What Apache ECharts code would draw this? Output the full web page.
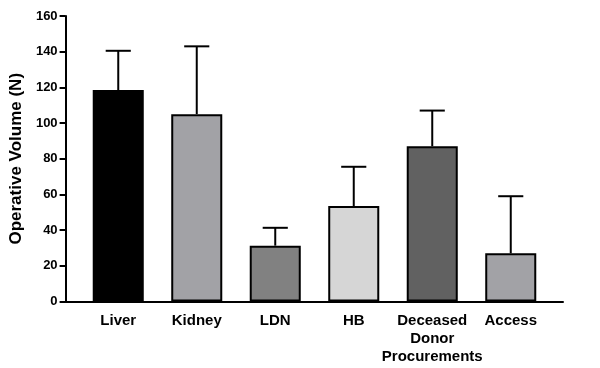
<!DOCTYPE html>
<html>
<head>
<meta charset="utf-8">
<script src="https://cdn.jsdelivr.net/npm/echarts@6/dist/echarts.min.js"></script>
<style>html,body{margin:0;padding:0;background:#fff}#c{width:600px;height:368px}</style>
</head>
<body>
<div id="c"></div>
<script>
const categories = ['Liver', 'Kidney', 'LDN', 'HB', 'Deceased\nDonor\nProcurements', 'Access'];
const means = [118.5, 105, 31.3, 53.5, 87, 27];
const sdUpper = [22, 38, 10, 22, 20, 32];
const barColors = ['#000000', '#a2a2a6', '#818181', '#d6d6d6', '#616161', '#a2a2a6'];
const yTicks = { min: 0, max: 160, interval: 20 };

const font = 'Liberation Sans, Arial, sans-serif';
const chart = echarts.init(document.getElementById('c'));
const gridTop = 16, gridBottom = 66.5;

chart.setOption({
  animation: false,
  backgroundColor: '#fff',
  grid: [
    { left: 65, right: 37, top: gridTop, bottom: gridBottom },
    { left: 79, right: 50, top: gridTop, bottom: gridBottom }
  ],
  xAxis: [
    { gridIndex: 0, type: 'category', data: [''], axisLine: { lineStyle: { color: '#000', width: 2 } }, axisTick: { show: false }, axisLabel: { show: false } },
    { gridIndex: 1, type: 'category', data: categories,
      axisLine: { show: false },
      axisTick: { alignWithLabel: true, length: 6, lineStyle: { color: '#000', width: 2 } },
      axisLabel: { color: '#000', fontFamily: font, fontWeight: 'bold', fontSize: 15, lineHeight: 18, margin: 10, interval: 0 } }
  ],
  yAxis: [
    { gridIndex: 0, type: 'value', min: yTicks.min, max: yTicks.max, interval: yTicks.interval,
      name: 'Operative Volume (N)', nameLocation: 'middle', nameGap: 39,
      nameTextStyle: { color: '#000', fontFamily: font, fontWeight: 'bold', fontSize: 17 },
      axisLine: { show: true, lineStyle: { color: '#000', width: 2 } },
      axisTick: { show: true, length: 6, lineStyle: { color: '#000', width: 2 } },
      axisLabel: { color: '#000', fontFamily: font, fontWeight: 'bold', fontSize: 13, margin: 8 },
      splitLine: { show: false } },
    { gridIndex: 1, type: 'value', min: yTicks.min, max: yTicks.max, interval: yTicks.interval, show: false, splitLine: { show: false } }
  ],
  series: [
    { type: 'bar', xAxisIndex: 1, yAxisIndex: 1, barWidth: '65%',
      data: means.map((v, i) => ({ value: v, itemStyle: { color: barColors[i], borderColor: '#000', borderWidth: 2 } })),
      z: 2 },
    { type: 'custom', xAxisIndex: 1, yAxisIndex: 1, z: 3,
      data: means.map((v, i) => [i, v, v + sdUpper[i]]),
      renderItem: function (params, api) {
        const base = api.coord([api.value(0), api.value(1)]);
        const tip = api.coord([api.value(0), api.value(2)]);
        const half = api.size([1, 0])[0] * 0.16;
        const st = { stroke: '#000', lineWidth: 2 };
        return { type: 'group', children: [
          { type: 'line', shape: { x1: base[0], y1: base[1], x2: tip[0], y2: tip[1] }, style: st },
          { type: 'line', shape: { x1: tip[0] - half, y1: tip[1], x2: tip[0] + half, y2: tip[1] }, style: st }
        ] };
      } }
  ]
});
</script>
</body>
</html>
